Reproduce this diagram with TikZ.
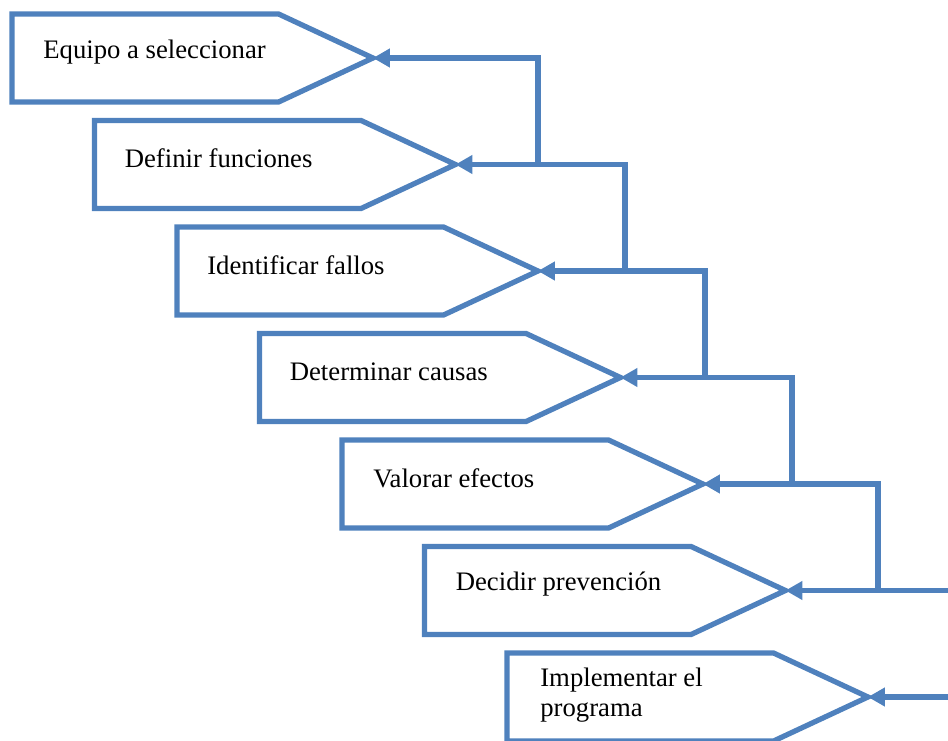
\documentclass[tikz,border=0pt]{standalone}
\usepackage{fontspec}
\setmainfont{Liberation Serif}
\usetikzlibrary{calc,arrows.meta,shapes.symbols}
\definecolor{stepblue}{RGB}{79,129,189}

\begin{document}
\begin{tikzpicture}[x=0.02cm,y=-0.02cm]

\tikzset{stepbox/.style={shape=signal,signal to=east,signal from=nowhere,signal pointer angle=50,draw=stepblue,line width=3pt,minimum width=7.22cm,minimum height=1.76cm,inner sep=0pt,outer sep=0pt,anchor=west},
steptext/.style={font=\fontsize{15.2}{17.5}\selectfont,anchor=west,align=left,inner sep=0pt},
feedback/.style={draw=stepblue,line width=3pt,-{Triangle[length=0.34cm,width=0.36cm]}}}

\useasboundingbox (0,0) rectangle (948,741);

% step shapes
\node[stepbox] (s1) at (12,58) {};
\node[stepbox] (s2) at (94.5,164.5) {};
\node[stepbox] (s3) at (177,271) {};
\node[stepbox] (s4) at (259.5,377.5) {};
\node[stepbox] (s5) at (342,484) {};
\node[stepbox] (s6) at (424.5,590.5) {};
\node[stepbox] (s7) at (507,697) {};

% labels
\node[steptext] (t1) at ($(s1.west)+(31,-6)$) {Equipo a seleccionar};
\node[steptext] (t2) at ($(s2.west)+(30,-6)$) {Definir funciones};
\node[steptext] (t3) at ($(s3.west)+(30,-6)$) {Identificar fallos};
\node[steptext] (t4) at ($(s4.west)+(30,-6)$) {Determinar causas};
\node[steptext] (t5) at ($(s5.west)+(31,-6)$) {Valorar efectos};
\node[steptext] (t6) at ($(s6.west)+(31,-6)$) {Decidir prevención};
\node[steptext] (t7) at ($(s7.west)+(33,-2)$) {Implementar el\\programa};

% feedback lines
\coordinate (j1) at (538,0);
\coordinate (j2) at (625,0);
\coordinate (j3) at (705,0);
\coordinate (j4) at (792,0);
\coordinate (j5) at (878,0);
\coordinate (edge) at (948,0);

\draw[feedback] (j1 |- s2.east) -- (j1 |- s1.east) -- (s1.east);
\draw[feedback] (j2 |- s3.east) -- (j2 |- s2.east) -- (s2.east);
\draw[feedback] (j3 |- s4.east) -- (j3 |- s3.east) -- (s3.east);
\draw[feedback] (j4 |- s5.east) -- (j4 |- s4.east) -- (s4.east);
\draw[feedback] (j5 |- s6.east) -- (j5 |- s5.east) -- (s5.east);
\draw[feedback] (edge |- s6.east) -- (s6.east);
\draw[feedback] (edge |- s7.east) -- (s7.east);

\end{tikzpicture}
\end{document}
